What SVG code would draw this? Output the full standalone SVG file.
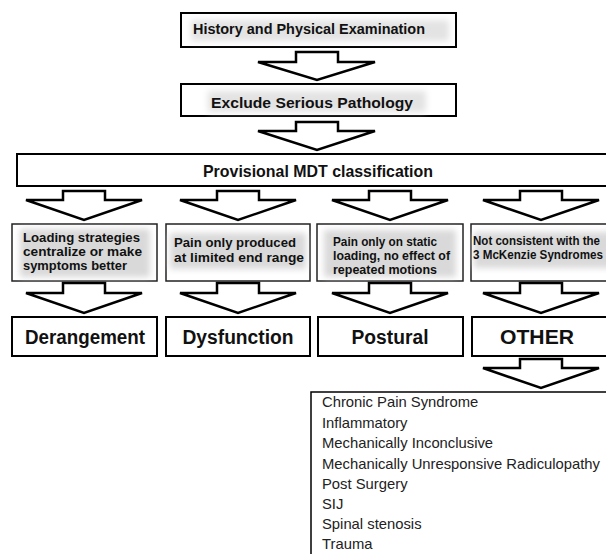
<svg xmlns="http://www.w3.org/2000/svg" width="606" height="554" viewBox="0 0 606 554">
<style>
.box{fill:#fff;stroke:#000;stroke-width:2}
.dbox{fill:#fff;stroke:#222;stroke-width:1.5}
.arrow{fill:#fff;stroke:#000;stroke-width:2.5;stroke-linejoin:miter}
.shade{fill:#d9d9d9;filter:url(#blur)}
.gt{font-family:"Liberation Sans",Arial,sans-serif;font-weight:bold;fill:#111}
.big{font-family:"Liberation Sans",Arial,sans-serif;font-weight:bold;font-size:19.5px;fill:#111;text-anchor:middle}
.list{font-family:"Liberation Sans",Arial,sans-serif;font-size:14.8px;fill:#222}
</style>
<defs>
<filter id="blur" x="-10%" y="-30%" width="120%" height="160%"><feGaussianBlur stdDeviation="3"/></filter>
</defs>
<rect width="606" height="554" fill="#fff"/>
<g id="history">
<rect class="box" x="181" y="13" width="275" height="34"/>
<rect class="shade" x="191" y="20" width="258" height="21" style="fill:#e3e3e3"/>
<text class="gt" x="193" y="34" font-size="14.5" textLength="232" lengthAdjust="spacingAndGlyphs">History and Physical Examination</text>
</g>
<g id="exclude">
<rect class="box" x="181" y="84" width="275" height="32"/>
<rect class="shade" x="208" y="91" width="218" height="21" style="fill:#e3e3e3"/>
<text class="gt" x="211" y="108" font-size="15" textLength="202" lengthAdjust="spacingAndGlyphs">Exclude Serious Pathology</text>
</g>
<g id="provisional">
<rect class="box" x="17" y="154" width="600" height="32"/>
<text class="gt" x="203" y="177" font-size="16.5" textLength="230" lengthAdjust="spacingAndGlyphs">Provisional MDT classification</text>
</g>
<g id="desc-derangement">
<rect class="dbox" x="12" y="224" width="145" height="57"/>
<rect class="shade" x="20" y="229" width="130" height="48"/>
<text class="gt" font-size="13.5"><tspan x="23" y="242" textLength="117" lengthAdjust="spacingAndGlyphs">Loading strategies</tspan><tspan x="23" y="256" textLength="119" lengthAdjust="spacingAndGlyphs">centralize or make</tspan><tspan x="23" y="270" textLength="104" lengthAdjust="spacingAndGlyphs">symptoms better</tspan></text>
</g>
<g id="desc-dysfunction">
<rect class="dbox" x="166" y="224" width="144" height="57"/>
<rect class="shade" x="170" y="233" width="136" height="36"/>
<text class="gt" font-size="13.5"><tspan x="174" y="247" textLength="122" lengthAdjust="spacingAndGlyphs">Pain only produced</tspan><tspan x="174" y="262" textLength="130" lengthAdjust="spacingAndGlyphs">at limited end range</tspan></text>
</g>
<g id="desc-postural">
<rect class="dbox" x="317" y="224" width="146" height="57"/>
<rect class="shade" x="324" y="230" width="132" height="47"/>
<text class="gt" font-size="13.5"><tspan x="333" y="246" textLength="104" lengthAdjust="spacingAndGlyphs">Pain only on static</tspan><tspan x="333" y="260" textLength="117" lengthAdjust="spacingAndGlyphs">loading, no effect of</tspan><tspan x="333" y="274" textLength="104" lengthAdjust="spacingAndGlyphs">repeated motions</tspan></text>
</g>
<g id="desc-other">
<rect class="dbox" x="471" y="224" width="150" height="57"/>
<rect class="shade" x="474" y="232" width="140" height="36"/>
<text class="gt" font-size="12"><tspan x="473" y="245" textLength="127" lengthAdjust="spacingAndGlyphs">Not consistent with the</tspan><tspan x="473" y="259" textLength="130" lengthAdjust="spacingAndGlyphs">3 McKenzie Syndromes</tspan></text>
</g>
<g id="derangement">
<rect class="box" x="12" y="317" width="145" height="39"/>
<text class="big" x="85" y="344" textLength="120" lengthAdjust="spacingAndGlyphs">Derangement</text>
</g>
<g id="dysfunction">
<rect class="box" x="166" y="317" width="144" height="39"/>
<text class="big" x="238" y="344" textLength="111" lengthAdjust="spacingAndGlyphs">Dysfunction</text>
</g>
<g id="postural">
<rect class="box" x="318" y="317" width="145" height="39"/>
<text class="big" x="390" y="344" textLength="77" lengthAdjust="spacingAndGlyphs">Postural</text>
</g>
<g id="other">
<rect class="box" x="472" y="317" width="150" height="39"/>
<text class="big" x="537" y="344" textLength="74" lengthAdjust="spacingAndGlyphs">OTHER</text>
</g>
<g id="other-list">
<rect x="311" y="392" width="310" height="170" fill="#fff" stroke="#000" stroke-width="1.5"/>
<text class="list"><tspan x="322" y="407">Chronic Pain Syndrome</tspan><tspan x="322" y="428">Inflammatory</tspan><tspan x="322" y="448">Mechanically Inconclusive</tspan><tspan x="322" y="469">Mechanically Unresponsive Radiculopathy</tspan><tspan x="322" y="489">Post Surgery</tspan><tspan x="322" y="509">SIJ</tspan><tspan x="322" y="529">Spinal stenosis</tspan><tspan x="322" y="549">Trauma</tspan></text>
</g>
<g id="connectors">
<polygon class="arrow" points="296,52 338,52 338,62 375,62 317,80 258,62 296,62"/>
<polygon class="arrow" points="296,122 338,122 338,131 375,131 317,150 258,131 296,131"/>
<polygon class="arrow" points="63,191 105,191 105,200 142,200 84,220 26,200 63,200"/>
<polygon class="arrow" points="217,191 259,191 259,200 296,200 238,220 180,200 217,200"/>
<polygon class="arrow" points="369,191 411,191 411,200 448,200 390,220 332,200 369,200"/>
<polygon class="arrow" points="520,191 562,191 562,200 599,200 541,220 483,200 520,200"/>
<polygon class="arrow" points="63,283 105,283 105,293 142,293 84,313 26,293 63,293"/>
<polygon class="arrow" points="217,283 259,283 259,293 296,293 238,313 180,293 217,293"/>
<polygon class="arrow" points="369,283 411,283 411,293 448,293 390,313 332,293 369,293"/>
<polygon class="arrow" points="520,283 562,283 562,293 599,293 541,313 483,293 520,293"/>
<polygon class="arrow" points="520,359 562,359 562,368 599,368 541,388 483,368 520,368"/>
</g>
</svg>
